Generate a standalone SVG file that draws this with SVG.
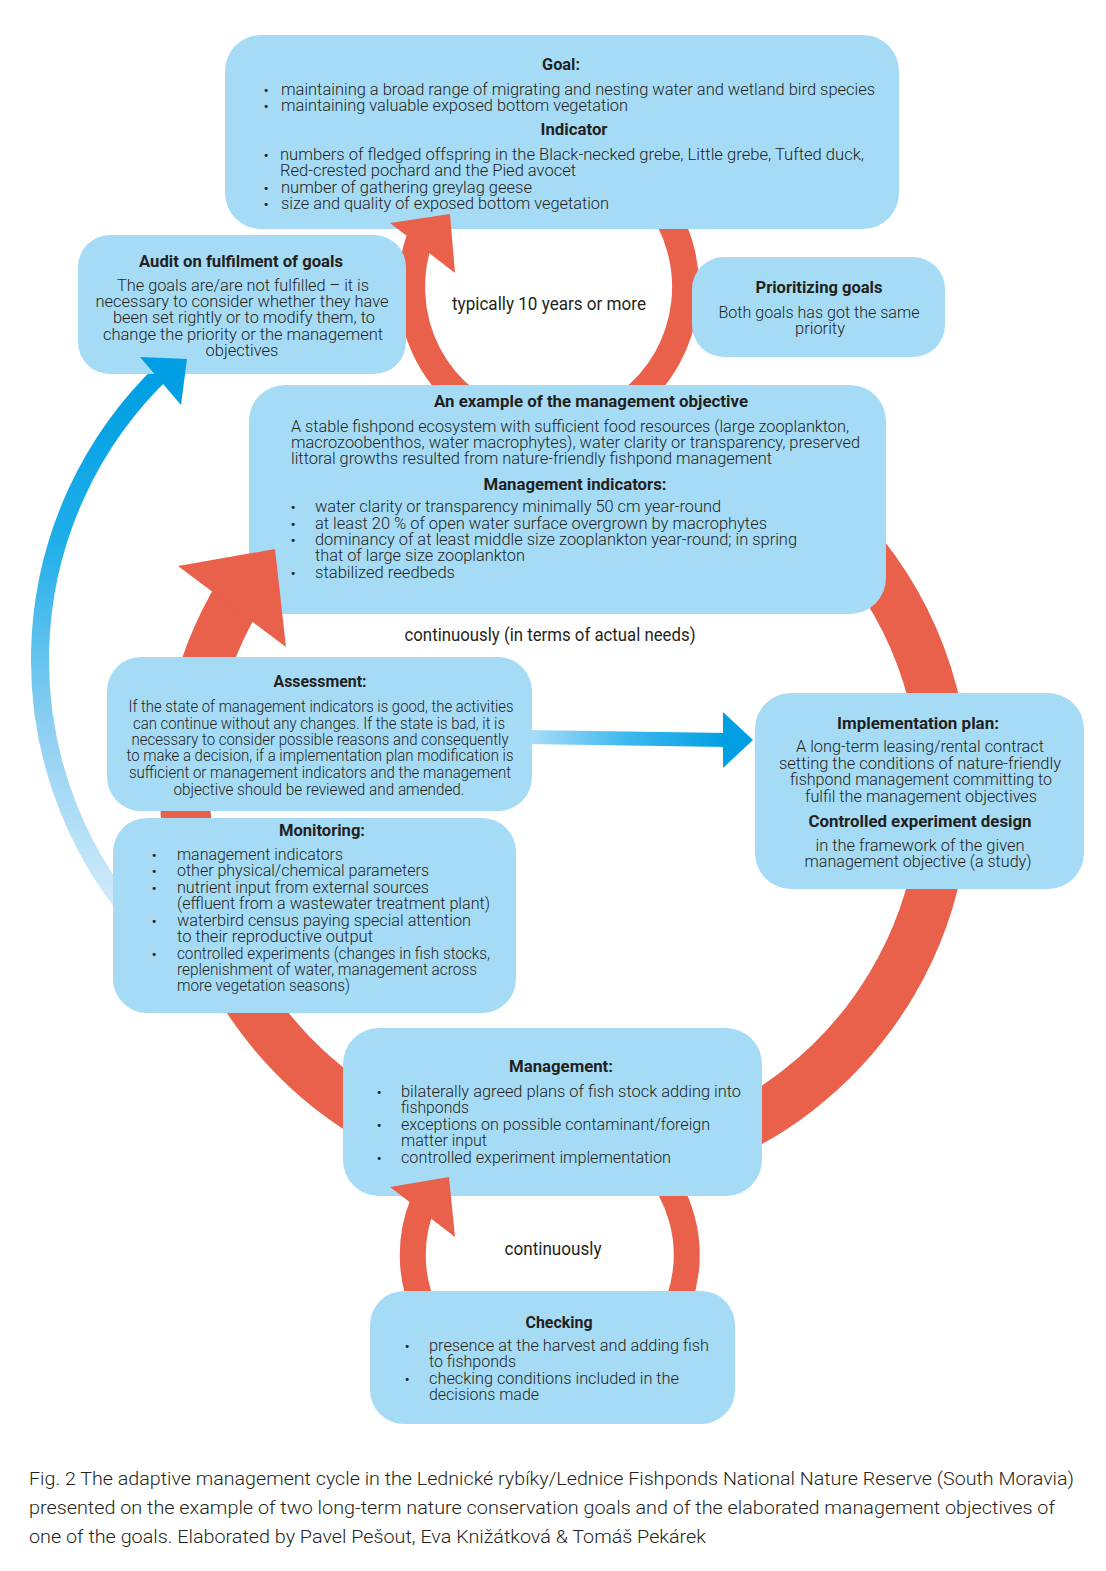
<svg xmlns="http://www.w3.org/2000/svg" width="1106" height="1571" viewBox="0 0 1106 1571">
<style>
.box{fill:#a6dbf6}
.ring{fill:none;stroke:#e9614b}
.head{fill:#e9614b}
.bhead{fill:#009fe3}
text{font-family:Roboto,"Liberation Sans",sans-serif;font-weight:300;font-size:16px;fill:#231f20}
.h{font-weight:700}
.m{text-anchor:middle}
.bu{font-size:13px;font-weight:700;text-anchor:middle}
.lbl{font-size:18px;font-weight:400;text-anchor:middle}
.cap{font-size:19px}
</style>
<defs>
<linearGradient id="gArc" gradientUnits="userSpaceOnUse" x1="0" y1="380" x2="0" y2="910">
<stop offset="0" stop-color="#009fe3"/>
<stop offset="0.3" stop-color="#1eaee9"/>
<stop offset="0.65" stop-color="#8ccff2"/>
<stop offset="1" stop-color="#d3ecfa"/>
</linearGradient>
<linearGradient id="gBar" gradientUnits="userSpaceOnUse" x1="530" y1="0" x2="726" y2="0">
<stop offset="0" stop-color="#a9ddf7"/>
<stop offset="0.5" stop-color="#3cb8ee"/>
<stop offset="1" stop-color="#009fe3"/>
</linearGradient>
</defs>
<rect width="1106" height="1571" fill="#ffffff"/>

<g id="connectors">
<path class="ring" stroke-width="50" d="M 755 461 A 380 380 0 1 1 242 590"/>
<path class="ring" stroke-width="27" d="M 549 145 A 137 142 0 1 1 420 238"/>
<path class="ring" stroke-width="26" d="M 550 1118 A 137 137 0 1 1 423 1203"/>
<path fill="none" stroke="url(#gArc)" stroke-width="18" d="M 149.5 935 A 400 400 0 0 1 164.5 370"/>
<polygon fill="url(#gBar)" points="525,730 728,733 728,747 525,744"/>
</g>

<g id="connector-labels">
<text class="lbl" x="549" y="310" textLength="194" lengthAdjust="spacingAndGlyphs">typically 10 years or more</text>
<text class="lbl" x="550" y="641" textLength="291" lengthAdjust="spacingAndGlyphs">continuously (in terms of actual needs)</text>
<text class="lbl" x="553" y="1255" textLength="97" lengthAdjust="spacingAndGlyphs">continuously</text>
</g>

<g id="node-goal">
<rect class="box" x="225" y="35" width="674" height="194" rx="36"/>
<text class="h m" x="561" y="70" textLength="38" lengthAdjust="spacingAndGlyphs">Goal:</text>
<text class="bu" x="266" y="95">•</text>
<text x="281" y="95" textLength="594" lengthAdjust="spacingAndGlyphs">maintaining a broad range of migrating and nesting water and wetland bird species</text>
<text class="bu" x="266" y="111">•</text>
<text x="281" y="111" textLength="347" lengthAdjust="spacingAndGlyphs">maintaining valuable exposed bottom vegetation</text>
<text class="h m" x="574" y="135" textLength="67" lengthAdjust="spacingAndGlyphs">Indicator</text>
<text class="bu" x="266" y="160">•</text>
<text x="280" y="160" textLength="584" lengthAdjust="spacingAndGlyphs">numbers of fledged offspring in the Black-necked grebe, Little grebe, Tufted duck,</text>
<text x="280" y="176" textLength="296" lengthAdjust="spacingAndGlyphs">Red-crested pochard and the Pied avocet</text>
<text class="bu" x="266" y="193">•</text>
<text x="281" y="193" textLength="251" lengthAdjust="spacingAndGlyphs">number of gathering greylag geese</text>
<text class="bu" x="266" y="209">•</text>
<text x="281" y="209" textLength="328" lengthAdjust="spacingAndGlyphs">size and quality of exposed bottom vegetation</text>
</g>

<g id="node-audit">
<rect class="box" x="78" y="235" width="328" height="139" rx="32"/>
<text class="h m" x="241" y="267" textLength="204" lengthAdjust="spacingAndGlyphs">Audit on fulfilment of goals</text>
<text class="m" x="243" y="291" textLength="252" lengthAdjust="spacingAndGlyphs">The goals are/are not fulfilled – it is</text>
<text class="m" x="242" y="307" textLength="293" lengthAdjust="spacingAndGlyphs">necessary to consider whether they have</text>
<text class="m" x="244" y="323" textLength="262" lengthAdjust="spacingAndGlyphs">been set rightly or to modify them, to</text>
<text class="m" x="243" y="340" textLength="280" lengthAdjust="spacingAndGlyphs">change the priority or the management</text>
<text class="m" x="242" y="356" textLength="73" lengthAdjust="spacingAndGlyphs">objectives</text>
</g>

<g id="node-prioritizing">
<rect class="box" x="692" y="257" width="253" height="100" rx="32"/>
<text class="h m" x="819" y="293" textLength="127" lengthAdjust="spacingAndGlyphs">Prioritizing goals</text>
<text class="m" x="819" y="318" textLength="201" lengthAdjust="spacingAndGlyphs">Both goals has got the same</text>
<text class="m" x="820" y="334" textLength="50" lengthAdjust="spacingAndGlyphs">priority</text>
</g>

<g id="node-objective">
<rect class="box" x="249" y="385" width="637" height="229" rx="36"/>
<text class="h m" x="591" y="407" textLength="314" lengthAdjust="spacingAndGlyphs">An example of the management objective</text>
<text x="291" y="432" textLength="558" lengthAdjust="spacingAndGlyphs">A stable fishpond ecosystem with sufficient food resources (large zooplankton,</text>
<text x="291" y="448" textLength="569" lengthAdjust="spacingAndGlyphs">macrozoobenthos, water macrophytes), water clarity or transparency, preserved</text>
<text x="291" y="464" textLength="481" lengthAdjust="spacingAndGlyphs">littoral growths resulted from nature-friendly fishpond management</text>
<text class="h m" x="575" y="490" textLength="183" lengthAdjust="spacingAndGlyphs">Management indicators:</text>
<text class="bu" x="293" y="512">•</text>
<text x="315" y="512" textLength="406" lengthAdjust="spacingAndGlyphs">water clarity or transparency minimally 50 cm year-round</text>
<text class="bu" x="293" y="529">•</text>
<text x="315" y="529" textLength="452" lengthAdjust="spacingAndGlyphs">at least 20 % of open water surface overgrown by macrophytes</text>
<text class="bu" x="293" y="545">•</text>
<text x="315" y="545" textLength="482" lengthAdjust="spacingAndGlyphs">dominancy of at least middle size zooplankton year-round; in spring</text>
<text x="315" y="561" textLength="210" lengthAdjust="spacingAndGlyphs">that of large size zooplankton</text>
<text class="bu" x="293" y="578">•</text>
<text x="315" y="578" textLength="140" lengthAdjust="spacingAndGlyphs">stabilized reedbeds</text>
</g>

<g id="node-assessment">
<rect class="box" x="107" y="657" width="425" height="154" rx="34"/>
<text class="h m" x="320" y="687" textLength="93" lengthAdjust="spacingAndGlyphs">Assessment:</text>
<text class="m" x="321" y="712" textLength="385" lengthAdjust="spacingAndGlyphs">If the state of management indicators is good, the activities</text>
<text class="m" x="319" y="729" textLength="372" lengthAdjust="spacingAndGlyphs">can continue without any changes. If the state is bad, it is</text>
<text class="m" x="320" y="745" textLength="377" lengthAdjust="spacingAndGlyphs">necessary to consider possible reasons and consequently</text>
<text class="m" x="320" y="761" textLength="387" lengthAdjust="spacingAndGlyphs">to make a decision, if a implementation plan modification is</text>
<text class="m" x="320" y="778" textLength="382" lengthAdjust="spacingAndGlyphs">sufficient or management indicators and the management</text>
<text class="m" x="319" y="795" textLength="291" lengthAdjust="spacingAndGlyphs">objective should be reviewed and amended.</text>
</g>

<g id="node-monitoring">
<rect class="box" x="113" y="818" width="403" height="195" rx="34"/>
<text class="h m" x="322" y="836" textLength="86" lengthAdjust="spacingAndGlyphs">Monitoring:</text>
<text class="bu" x="154" y="860">•</text>
<text x="177" y="860" textLength="166" lengthAdjust="spacingAndGlyphs">management indicators</text>
<text class="bu" x="154" y="876">•</text>
<text x="177" y="876" textLength="252" lengthAdjust="spacingAndGlyphs">other physical/chemical parameters</text>
<text class="bu" x="154" y="893">•</text>
<text x="177" y="893" textLength="252" lengthAdjust="spacingAndGlyphs">nutrient input from external sources</text>
<text x="177" y="909" textLength="313" lengthAdjust="spacingAndGlyphs">(effluent from a wastewater treatment plant)</text>
<text class="bu" x="154" y="926">•</text>
<text x="177" y="926" textLength="294" lengthAdjust="spacingAndGlyphs">waterbird census paying special attention</text>
<text x="177" y="942" textLength="196" lengthAdjust="spacingAndGlyphs">to their reproductive output</text>
<text class="bu" x="154" y="959">•</text>
<text x="177" y="959" textLength="313" lengthAdjust="spacingAndGlyphs">controlled experiments (changes in fish stocks,</text>
<text x="177" y="975" textLength="300" lengthAdjust="spacingAndGlyphs">replenishment of water, management across</text>
<text x="177" y="991" textLength="173" lengthAdjust="spacingAndGlyphs">more vegetation seasons)</text>
</g>

<g id="node-implementation">
<rect class="box" x="755" y="693" width="329" height="196" rx="36"/>
<text class="h m" x="918" y="729" textLength="162" lengthAdjust="spacingAndGlyphs">Implementation plan:</text>
<text class="m" x="920" y="752" textLength="248" lengthAdjust="spacingAndGlyphs">A long-term leasing/rental contract</text>
<text class="m" x="920" y="769" textLength="282" lengthAdjust="spacingAndGlyphs">setting the conditions of nature-friendly</text>
<text class="m" x="921" y="785" textLength="262" lengthAdjust="spacingAndGlyphs">fishpond management committing to</text>
<text class="m" x="921" y="802" textLength="232" lengthAdjust="spacingAndGlyphs">fulfil the management objectives</text>
<text class="h m" x="920" y="827" textLength="223" lengthAdjust="spacingAndGlyphs">Controlled experiment design</text>
<text class="m" x="920" y="851" textLength="209" lengthAdjust="spacingAndGlyphs">in the framework of the given</text>
<text class="m" x="918" y="867" textLength="227" lengthAdjust="spacingAndGlyphs">management objective (a study)</text>
</g>

<g id="node-management">
<rect class="box" x="343" y="1028" width="419" height="168" rx="36"/>
<text class="h m" x="561" y="1072" textLength="104" lengthAdjust="spacingAndGlyphs">Management:</text>
<text class="bu" x="379" y="1097">•</text>
<text x="401" y="1097" textLength="340" lengthAdjust="spacingAndGlyphs">bilaterally agreed plans of fish stock adding into</text>
<text x="401" y="1113" textLength="68" lengthAdjust="spacingAndGlyphs">fishponds</text>
<text class="bu" x="379" y="1130">•</text>
<text x="401" y="1130" textLength="309" lengthAdjust="spacingAndGlyphs">exceptions on possible contaminant/foreign</text>
<text x="401" y="1146" textLength="86" lengthAdjust="spacingAndGlyphs">matter input</text>
<text class="bu" x="379" y="1163">•</text>
<text x="401" y="1163" textLength="270" lengthAdjust="spacingAndGlyphs">controlled experiment implementation</text>
</g>

<g id="node-checking">
<rect class="box" x="370" y="1291" width="365" height="133" rx="34"/>
<text class="h m" x="559" y="1328" textLength="67" lengthAdjust="spacingAndGlyphs">Checking</text>
<text class="bu" x="407" y="1351">•</text>
<text x="429" y="1351" textLength="280" lengthAdjust="spacingAndGlyphs">presence at the harvest and adding fish</text>
<text x="429" y="1367" textLength="87" lengthAdjust="spacingAndGlyphs">to fishponds</text>
<text class="bu" x="407" y="1384">•</text>
<text x="429" y="1384" textLength="250" lengthAdjust="spacingAndGlyphs">checking conditions included in the</text>
<text x="429" y="1400" textLength="110" lengthAdjust="spacingAndGlyphs">decisions made</text>
</g>

<g id="arrowheads">
<polygon class="head" points="178,566 275,549 286,647"/>
<polygon class="head" points="390,223 450,214 455,273"/>
<polygon class="head" points="390,1187 449,1177 455,1237"/>
<polygon class="bhead" points="140,357 187,359 181,405"/>
<polygon class="bhead" points="723,712 753,740 723,768"/>
</g>

<g id="caption">
<text class="cap" x="29" y="1485" textLength="1045" lengthAdjust="spacingAndGlyphs">Fig. 2 The adaptive management cycle in the Lednické rybíky/Lednice Fishponds National Nature Reserve (South Moravia)</text>
<text class="cap" x="29" y="1514" textLength="1026" lengthAdjust="spacingAndGlyphs">presented on the example of two long-term nature conservation goals and of the elaborated management objectives of</text>
<text class="cap" x="29" y="1543" textLength="677" lengthAdjust="spacingAndGlyphs">one of the goals. Elaborated by Pavel Pešout, Eva Knižátková &amp; Tomáš Pekárek</text>
</g>
</svg>
